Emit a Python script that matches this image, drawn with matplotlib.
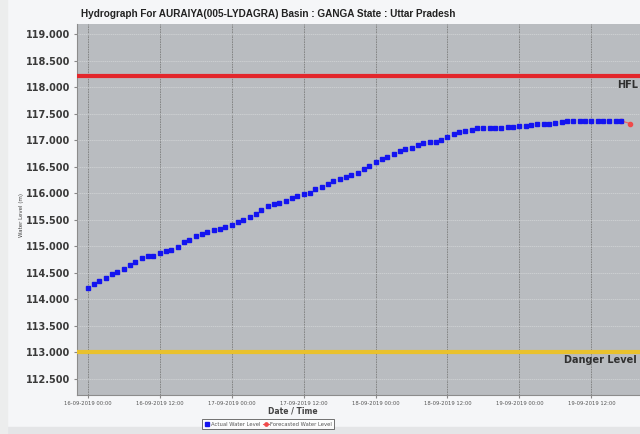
import pandas as pd
import matplotlib
matplotlib.use("Agg")
import matplotlib.pyplot as plt
import matplotlib.dates as mdates
from matplotlib.patches import Rectangle

# observed water level, hourly from 16-09-2019 00:00
actual_level = [114.20, 114.28, 114.34, 114.40, 114.47, 114.52, 114.57, 114.64, 114.70, 114.78,
                114.81, 114.82, 114.86, 114.90, 114.93, 114.99, 115.07, 115.12, 115.19, 115.23,
                115.26, 115.30, 115.33, 115.36, 115.40, 115.45, 115.50, 115.55, 115.61, 115.68,
                115.75, 115.79, 115.82, 115.85, 115.90, 115.94, 115.98, 116.01, 116.07, 116.11,
                116.18, 116.22, 116.27, 116.31, 116.34, 116.38, 116.45, 116.52, 116.59, 116.64,
                116.69, 116.74, 116.79, 116.83, 116.85, 116.91, 116.95, 116.97, 116.97, 117.01,
                117.06, 117.11, 117.15, 117.17, 117.19, 117.22, 117.23, 117.23, 117.23, 117.23,
                117.24, 117.25, 117.26, 117.27, 117.28, 117.30, 117.30, 117.31, 117.33, 117.35,
                117.36, 117.36, 117.36, 117.36, 117.36, 117.36, 117.36, 117.36, 117.36, 117.36]
actual_time = pd.date_range("2019-09-16 00:00", periods=len(actual_level), freq="h")

forecast_time = pd.to_datetime(["2019-09-19 17:00", "2019-09-19 18:30"])
forecast_level = [117.36, 117.31]

hfl = 118.20
danger_level = 113.00

yticks = [112.5, 113.0, 113.5, 114.0, 114.5, 115.0, 115.5, 116.0, 116.5, 117.0, 117.5, 118.0, 118.5, 119.0]

fig = plt.figure(figsize=(6.4, 4.34), dpi=100)
fig.patch.set_facecolor("#f5f6f8")
fig.patches.append(Rectangle((0, 0), 1, 0.016, transform=fig.transFigure, color="#e4e5e7", zorder=0))
fig.patches.append(Rectangle((0, 0), 0.011, 1, transform=fig.transFigure, color="#eceded", zorder=0))

ax = fig.add_axes([77/640, 39/434, 569/640, 371/434])
ax.set_facecolor("#b9bcc0")

ax.axhline(hfl, color="#e3262b", lw=3.0, zorder=3)
ax.axhline(danger_level, color="#e9c12d", lw=3.0, zorder=3)

ax.plot(forecast_time, forecast_level, color="#f06060", lw=0.8, marker="o", ms=3.0,
        mfc="#f04a4a", mec="#f04a4a", zorder=4, label="Forecasted Water Level")
ax.plot(actual_time, actual_level, ls="none", marker="s", ms=2.9, color="#1414f0",
        zorder=5, label="Actual Water Level")

ax.set_xlim(pd.Timestamp("2019-09-15 22:15"), pd.Timestamp("2019-09-19 21:05"))
ax.set_ylim(112.19, 119.19)
ax.set_yticks(yticks)
ax.yaxis.set_major_formatter(matplotlib.ticker.FormatStrFormatter("%.3f"))
ax.xaxis.set_major_locator(mdates.HourLocator(byhour=[0, 12]))
ax.xaxis.set_major_formatter(mdates.DateFormatter("%d-%m-%Y %H:%M"))

ax.tick_params(axis="y", labelsize=7, labelcolor="#3a3a3a", length=2, color="#888888", pad=3)
ax.tick_params(axis="x", labelsize=3.8, labelcolor="#555555", length=2, color="#888888", pad=2)
for lab in ax.get_yticklabels():
    lab.set_fontweight("bold")

ax.grid(axis="x", color="#7e7e7e", lw=0.6, ls=(0, (2, 1)))
ax.grid(axis="y", color="#d4d6d8", lw=0.5, ls=(0, (2, 1)))
ax.set_axisbelow(True)
for s in ["left", "bottom"]:
    ax.spines[s].set_color("#8c8c8c")
    ax.spines[s].set_linewidth(0.8)
for s in ["top", "right"]:
    ax.spines[s].set_visible(False)

ax.text(pd.Timestamp("2019-09-19 16:15"), hfl - 0.06, "HFL", fontsize=7, fontweight="bold",
        color="#303030", va="top", ha="left")
ax.text(pd.Timestamp("2019-09-19 07:30"), danger_level - 0.06, "Danger Level", fontsize=7,
        fontweight="bold", color="#303030", va="top", ha="left")

fig.text(268/640, 1 - 14/434, "Hydrograph For AURAIYA(005-LYDAGRA) Basin : GANGA State : Uttar Pradesh",
         ha="center", va="center", fontsize=7.2, fontweight="bold", color="#222222",
         family=["Liberation Sans", "DejaVu Sans"])
fig.text(293/640, 1 - 411/434, "Date / Time", ha="center", va="center", fontsize=5.5,
         fontweight="bold", color="#444444")
fig.text(22/640, 1 - 215/434, "Water Level (m)", ha="center", va="center", rotation=90,
         fontsize=4, color="#444444")

handles, labels = ax.get_legend_handles_labels()
leg = fig.legend(handles[::-1], labels[::-1], loc="center", bbox_to_anchor=(268/640, 1 - 424/434),
                 ncol=2, fontsize=3.8, frameon=True, fancybox=False, handlelength=1.0,
                 handletextpad=0.3, columnspacing=0.6, borderpad=0.4, markerscale=0.8)
leg.get_frame().set_edgecolor("#333333")
leg.get_frame().set_linewidth(0.6)
leg.get_frame().set_facecolor("#ffffff")
for t in leg.get_texts():
    t.set_color("#555555")

fig.savefig("out.png", dpi=100, facecolor=fig.get_facecolor())
